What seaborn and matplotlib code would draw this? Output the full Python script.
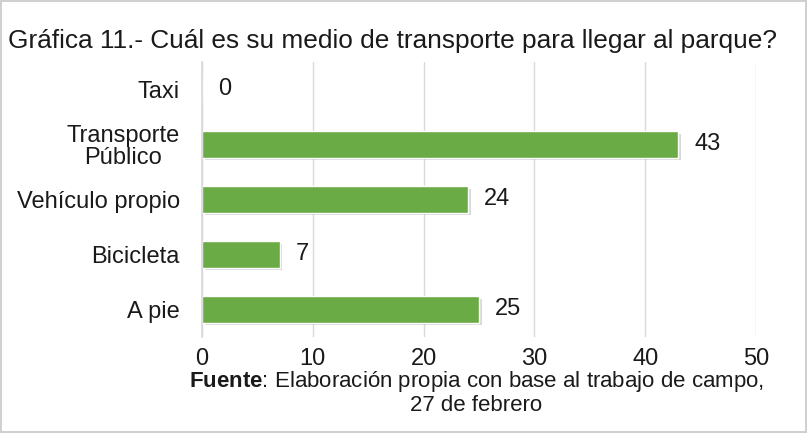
import matplotlib
matplotlib.use("Agg")
import matplotlib.pyplot as plt
import matplotlib.patheffects as pe
import seaborn as sns
import pandas as pd

categories = ["Taxi", "Transporte\nPúblico", "Vehículo propio", "Bicicleta", "A pie"]
values = [0, 43, 24, 7, 25]
x_ticks = [0, 10, 20, 30, 40, 50]

title = "Gráfica 11.- Cuál es su medio de transporte para llegar al parque?"

df = pd.DataFrame({"medio": categories, "n": values})

sns.set_theme(style="white")
plt.rcParams["font.family"] = ["Liberation Sans", "DejaVu Sans"]
plt.rcParams["mathtext.fontset"] = "custom"
plt.rcParams["mathtext.rm"] = "Liberation Sans"
plt.rcParams["mathtext.bf"] = "Liberation Sans:bold"

fig = plt.figure(figsize=(8.07, 4.33), dpi=100, edgecolor="#d0d0d0", linewidth=1.5)
ax = fig.add_axes([0.2503, 0.222, 0.6865, 0.635])

sns.barplot(data=df, x="n", y="medio", orient="h", color="#6aab46",
            saturation=1, width=0.48, ax=ax)

for bar in ax.patches:
    bar.set_path_effects([pe.SimplePatchShadow(offset=(2, -2), alpha=0.18), pe.Normal()])

for i, v in enumerate(values):
    ax.text(v + 1.45, i, str(v), va="center", ha="left", fontsize=17, color="#1a1a1a")

ax.set_xlim(0, 50)
ax.set_xticks(x_ticks)
ax.xaxis.grid(True, color="#d9d9d9", linewidth=1)
ax.set_axisbelow(True)
for s in ["top", "right", "bottom"]:
    ax.spines[s].set_visible(False)
ax.spines["left"].set_color("#d9d9d9")
ax.tick_params(axis="both", length=0, labelsize=17, labelcolor="#1a1a1a")
ax.tick_params(axis="x", pad=8)
ax.tick_params(axis="y", pad=16)
ax.set_xlabel("")
ax.set_ylabel("")
for lab in ax.get_yticklabels():
    lab.set_ha("right")
    lab.set_multialignment("center")
    lab.set_linespacing(1.0)

fig.text(0.01, 0.905, title, fontsize=18.9, color="#1a1a1a", ha="left", va="center")
fig.text(0.59, 0.12, r"$\mathbf{Fuente}$: Elaboración propia con base al trabajo de campo,",
         fontsize=16, ha="center", va="center", color="#1a1a1a")
fig.text(0.59, 0.063, "27 de febrero", fontsize=16, ha="center", va="center", color="#1a1a1a")

fig.savefig("out.png", dpi=100, edgecolor=fig.get_edgecolor())
